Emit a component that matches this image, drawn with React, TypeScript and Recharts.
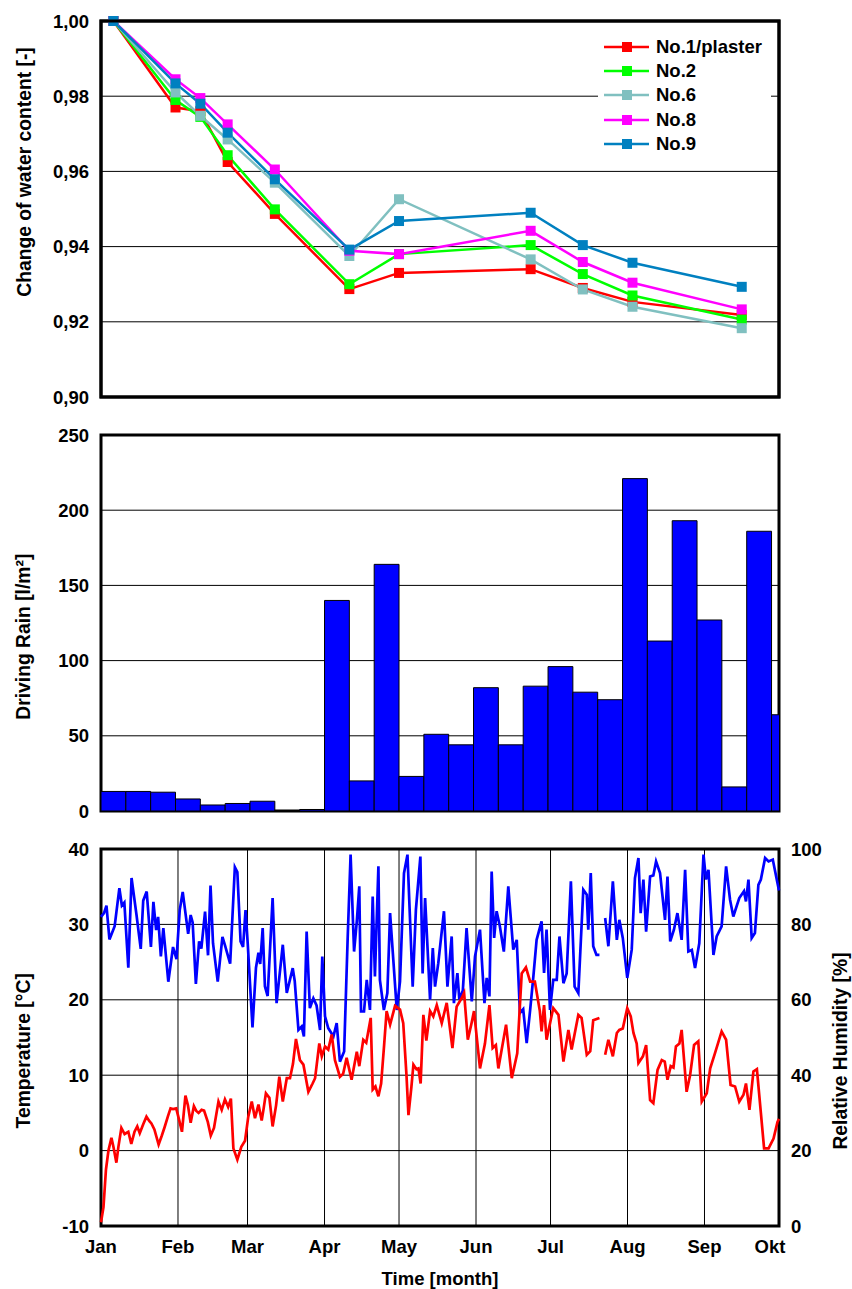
import React from "react";
import {
    ComposedChart,
    LineChart,
    Line,
    BarChart,
    Bar,
    XAxis,
    YAxis,
    CartesianGrid,
    ReferenceArea,
    Label
} from "recharts";

const FONT = "'Liberation Sans', Arial, Helvetica, sans-serif";

// month boundaries as day of year (Jan 1 = 0)
const monthTicks = [0, 31, 59, 90, 120, 151, 181, 212, 243, 273];
const monthNames = ["Jan", "Feb", "Mar", "Apr", "May", "Jun", "Jul", "Aug", "Sep", "Okt"];

// top panel: change of water content
const weighDays = [5, 30, 40, 51, 70, 100, 120, 173, 194, 214, 258];
const no1 = [1.0, 0.977, 0.976, 0.9625, 0.9487, 0.9287, 0.933, 0.934, 0.929, 0.9253, 0.9218];
const no2 = [1.0, 0.979, 0.9745, 0.9643, 0.9499, 0.930, 0.938, 0.9404, 0.9327, 0.927, 0.9206];
const no6 = [1.0, 0.981, 0.9748, 0.9685, 0.957, 0.9375, 0.9526, 0.9366, 0.9286, 0.924, 0.9183];
const no8 = [1.0, 0.9845, 0.9795, 0.9725, 0.9605, 0.9389, 0.938, 0.9442, 0.9359, 0.9304, 0.9233];
const no9 = [1.0, 0.9834, 0.978, 0.9703, 0.9579, 0.9392, 0.9468, 0.949, 0.9404, 0.9357, 0.9293];

const series = [
    { key: "no1", name: "No.1/plaster", color: "#FF0000" },
    { key: "no2", name: "No.2", color: "#00FF00" },
    { key: "no6", name: "No.6", color: "#80C0C0" },
    { key: "no8", name: "No.8", color: "#FF00FF" },
    { key: "no9", name: "No.9", color: "#0080C0" }
];

// middle panel: driving rain per 10-day period (centre day)
const rainDays = [5, 15, 25, 35, 45, 55, 65, 75, 85, 95, 105, 115, 125, 135, 145, 155, 165, 175, 185, 195, 205, 215, 225, 235, 245, 255, 265, 275];
const rainValues = [13, 13, 12.5, 8, 4, 5, 6.5, 0.3, 1, 140, 20, 164, 23, 51, 44, 82, 44, 83, 96, 79, 74, 221, 113, 193, 127, 16, 186, 64];

// bottom panel: daily temperature [°C] (day, value); null = missing data
const tempPoints: [number, number | null][] = [
    [0, -9.5], [1, -7.5], [2, -2.5], [3, 0], [4.2, 1.7], [5, 0.5], [6.2, -1.6], [7, 0.5], [8.2, 3.0], [9.5, 2.2],
    [11, 2.5], [12.2, 0.9], [13.5, 2.5], [14.6, 3.2], [15.6, 2.3], [17, 3.5], [18.3, 4.5], [19.5, 3.9], [20.3, 3.6], [21.5, 2.8],
    [23.2, 0.8], [24.5, 2.0], [25.6, 3.1], [27, 4.6], [28, 5.6], [29, 5.5], [30.3, 5.6], [31.5, 4.0], [32.6, 2.5], [34, 7.3],
    [35, 6.0], [36.1, 3.7], [37.4, 5.9], [38.3, 5.3], [39.3, 5.0], [40.5, 5.4], [41.5, 5.3], [43, 3.8], [44.2, 2.0], [45.5, 3.0],
    [47.3, 6.5], [48.6, 5.4], [49.9, 6.8], [51.2, 5.8], [52.3, 6.9], [53.3, 0.3], [54.9, -1.2], [56.5, 0.5], [58, 1.3], [59.3, 4.5],
    [60.7, 6.5], [62, 4.3], [63.4, 6.1], [64.7, 4.0], [65.5, 5.6], [66.4, 7.6], [67.8, 7.0], [69.1, 3.2], [70.5, 6.0], [71.8, 9.8],
    [73.2, 6.5], [74.8, 9.6], [76.1, 9.6], [77.3, 11.5], [78.5, 14.8], [80.1, 12], [81.5, 11.4], [83.5, 7.8], [85.2, 8.9], [86.2, 9.6],
    [87.9, 14.2], [88.9, 12.5], [90.2, 13.8], [91.5, 13.4], [92.9, 15.4], [94.2, 12], [96.2, 9.8], [97.5, 10.2], [98.9, 12.3], [100.9, 9.4],
    [103, 13.1], [104, 11.2], [105.6, 14.7], [106.8, 14.3], [108.6, 17.6], [109.4, 8.1], [110.5, 8.5], [111.7, 7.2], [112.8, 8.9], [114, 14],
    [115, 18.5], [116.4, 16.7], [118.4, 19.2], [120.4, 18.7], [121.7, 16.9], [123, 10], [123.8, 4.7], [125, 8.5], [125.8, 11.4], [127, 10.8],
    [127.8, 10.9], [128.7, 8.9], [129.8, 18], [131, 14.6], [132.5, 18.5], [133.8, 17.8], [135.2, 19.3], [137.2, 16.9], [139.2, 19.6], [141.5, 13.6],
    [143.2, 19.1], [145.2, 20.2], [146.2, 20.9], [147.7, 14.7], [149.2, 16.9], [150.2, 18.5], [152.6, 10.9], [154.6, 14.2], [156.4, 19.3], [157.7, 13.6],
    [159, 14.0], [160, 10.9], [163.1, 16.7], [165.4, 9.6], [167.6, 12.9], [169.4, 23.5], [171.1, 24.3], [172.8, 22.4], [174.7, 22.4], [176.7, 18.5],
    [177.4, 15.8], [178.4, 19.3], [179.4, 14.7], [182.1, 18.9], [184.2, 18], [186.2, 11.8], [188.2, 16], [189.5, 13.4], [192.2, 18], [193.5, 17.6],
    [195.6, 12.7], [197, 13.2], [198.2, 17.3], [200.7, 17.6], [202, null], [203, 12.7], [204.3, 14.7], [206.1, 12.5], [207.7, 15.6], [208.7, 16],
    [210.1, 16.2], [211.9, 18.9], [213.3, 17.8], [214.4, 15.6], [215.7, 14.2], [216.4, 11.6], [218.2, 12.5], [219.5, 14], [221.1, 6.7], [222.4, 6.3],
    [224.1, 10.7], [225.8, 12], [227, 11.8], [228.1, 9.4], [229.4, 11.2], [230.5, 11.0], [231.5, 13.8], [232.9, 14.2], [233.8, 16], [235.8, 7.8],
    [237.2, 10], [238.8, 14], [240.5, 14.5], [241.9, 6.5], [243.9, 7.6], [245.3, 10.9], [247.2, 12.9], [249.9, 15.8], [251.7, 14.7], [253.5, 8.7],
    [255.3, 8.5], [257, 6.5], [258.7, 7.4], [259.7, 8.9], [261.1, 5.4], [262.7, 10.5], [264.1, 10.8], [265.7, 5], [267, 0.3], [268.8, 0.3],
    [270.8, 1.6], [272.4, 3.8], [273, 4.2]
];

// bottom panel: daily relative humidity [%]
const rhPoints: [number, number | null][] = [
    [0, 82], [1.2, 83], [2.2, 85], [3.4, 76], [5.5, 79.5], [7.4, 89.6], [8.4, 85], [9.4, 85.8], [11, 68.5], [12.3, 92.3],
    [14.3, 82.5], [16, 73.5], [17, 86.3], [18.4, 88.7], [20.1, 74], [21.1, 86], [22.2, 78.5], [23, 82], [24.1, 71.5], [25.1, 79],
    [27.1, 64.8], [29, 74], [30.4, 70.8], [31.7, 83.8], [32.9, 88.6], [35.1, 77.5], [36.1, 82.5], [36.9, 80.5], [38.2, 64.2], [39.5, 75.5],
    [40.4, 73.6], [41.9, 83.4], [43.1, 71.8], [44.1, 90.3], [45.1, 75], [47, 64.8], [48.9, 76.7], [49.9, 74.5], [52, 69.6], [53.9, 95.2],
    [54.9, 93.9], [56.2, 75.5], [57.2, 74], [58.2, 83.8], [59.1, 74.7], [61, 52.7], [62.4, 68.5], [63.4, 72.5], [64.1, 69.5], [65.1, 79],
    [66, 63.6], [67.1, 61], [69.1, 87], [70.7, 59.1], [73.2, 74.6], [74.8, 61.8], [77.2, 68.4], [78, 65], [79.5, 52], [80.8, 52.9],
    [81.7, 50.3], [82.8, 78.1], [84.1, 57.8], [85.5, 60.4], [86.8, 58.5], [88.2, 52], [89.1, 71.5], [90.2, 55.6], [91.5, 52.5], [93.6, 50.3],
    [94.9, 53.8], [96.2, 43.6], [97.9, 46.3], [99.3, 75.9], [100.5, 98.5], [101.9, 72.8], [103, 80.8], [104, 90.1], [104.7, 56.9], [105.9, 56.9],
    [107, 65.3], [108.3, 57.3], [109.4, 87.4], [110.3, 66.2], [111.7, 95.4], [112.3, 65.3], [113.9, 57.3], [115.3, 61.8], [116.4, 83], [117.7, 70.6],
    [119.1, 57.3], [120.4, 64.9], [122, 93.6], [123.4, 98.5], [125.5, 63.5], [126.8, 83.9], [128.6, 98], [129.5, 67], [130.5, 87], [132.5, 60],
    [133.6, 73.7], [134.5, 63.5], [135.8, 69.7], [138.1, 83.5], [139.5, 63.5], [141.2, 76.8], [142.1, 59.1], [143.5, 67.1], [144.3, 60], [145.7, 62.5],
    [147.2, 79], [149.3, 59.6], [150.6, 71.5], [152.6, 78.6], [154.4, 59.1], [155.3, 65.8], [156.4, 60.9], [157.3, 94], [158.3, 76.4], [159.3, 83.5],
    [160.6, 79.5], [162.2, 72.8], [164, 90.1], [166, 73.3], [167.4, 75.9], [168.7, 56.5], [170, 57.5], [171.4, 48.5], [172.8, 57.3], [174.1, 66.2],
    [175.4, 75.9], [177.4, 80.8], [178.4, 67.1], [179.4, 78.6], [180.8, 57.3], [182.1, 65.3], [183.5, 65.3], [184.6, 76.8], [186.2, 64.4], [187.5, 67],
    [189.2, 91.4], [190.7, 63.5], [192.2, 61.8], [194.2, 89.2], [195.6, 87.9], [196.2, 78.6], [197.2, 93.6], [198.2, 74.2], [199.5, 71.9], [200.7, 71.9],
    [202, null], [203, 81.7], [204.3, 74.2], [206.1, 91.4], [207.7, 75.9], [208.7, 81.2], [210.1, 76.4], [211.9, 65.8], [213.7, 73.3], [215, 92.3],
    [216.4, 97.6], [217.3, 83], [218.4, 91.9], [219.5, 78.1], [221.1, 92.7], [222.4, 93], [223.5, 96.7], [225.1, 93.6], [227.1, 81.2], [228.1, 92.7],
    [229.2, 75.5], [230.7, 78.6], [232.1, 83], [233.8, 75.9], [235.2, 94.5], [236.5, 72.8], [237.9, 73.2], [239.2, 68.4], [240.9, 75], [242.6, 98.5],
    [243.6, 91.9], [244.6, 94.5], [246.6, 71.9], [247.9, 76.8], [249.9, 79.5], [251.7, 95.4], [253.3, 86.5], [254.6, 82.1], [257, 87], [258.9, 88.8],
    [259.7, 86.1], [260.7, 91.9], [262, 76.4], [263.3, 77.7], [264.7, 90.5], [265.7, 91.9], [267.4, 97.6], [268.8, 96.7], [270.5, 97.2], [272.1, 91.9],
    [273, 89]
];

const waterData = weighDays.map((day, i) => ({
    day,
    no1: no1[i],
    no2: no2[i],
    no6: no6[i],
    no8: no8[i],
    no9: no9[i]
}));
const rainData = rainDays.map((day, i) => ({ day, rain: rainValues[i] }));
const tempData = tempPoints.map(([day, t]) => ({ day, temp: t }));
const rhData = rhPoints.map(([day, rh]) => ({ day, rh }));

const tickStyle = { fill: "#000", fontSize: 18.5, fontWeight: "bold", fontFamily: FONT };
const titleStyle = { fill: "#000", fontSize: 19.3, fontWeight: "bold", fontFamily: FONT };

const vTitle = (x: number, y: number, text: string) => () => (
    <text transform={`translate(${x},${y}) rotate(-90)`} textAnchor="middle" style={titleStyle}>
        {text}
    </text>
);

const comma2 = (v: number) => v.toFixed(2).replace(".", ",");

const SquareDot = (p: any) => {
    if (p.cx == null || p.cy == null) return null;
    return <rect x={p.cx - 5} y={p.cy - 5} width={10} height={10} fill={p.stroke} />;
};

const MonthTick = (props: any) => {
    const { x, y, payload } = props;
    const i = monthTicks.indexOf(payload.value);
    const shift = payload.value === 273 ? -9 : 0;
    return (
        <text x={x + shift} y={y} dy="0.71em" textAnchor="middle" style={tickStyle}>
            {monthNames[i]}
        </text>
    );
};

const WaterLegend = () => (
    <div
        style={{
            position: "absolute",
            left: 598,
            top: 32,
            width: 173,
            height: 129,
            background: "#fff",
            paddingTop: 3,
            boxSizing: "border-box"
        }}
    >
        {series.map(s => (
            <div key={s.key} style={{ display: "flex", alignItems: "center", height: 24.2 }}>
                <svg width={58} height={24} style={{ display: "block" }}>
                    <line x1={6} x2={51} y1={12} y2={12} stroke={s.color} strokeWidth={2.5} />
                    <rect x={24} y={7} width={10} height={10} fill={s.color} />
                </svg>
                <span style={{ fontFamily: FONT, fontWeight: "bold", fontSize: 18.5, color: "#000", lineHeight: "24px" }}>
                    {s.name}
                </span>
            </div>
        ))}
    </div>
);

// plot frame: spans the whole x domain, full height when no y values are given
const frame = { x1: 0, x2: 273, fill: "none", stroke: "#000", strokeWidth: 3, fillOpacity: 0, ifOverflow: "visible" as const };

// thick border round the top plot area (x 101..779, y 21..397)
const TopFrame = () => (
    <svg
        width={852}
        height={414}
        style={{ position: "absolute", left: 0, top: 0, pointerEvents: "none", overflow: "visible" }}
    >
        <rect x={101} y={21} width={678} height={376} fill="none" stroke="#000" strokeWidth={3} />
    </svg>
);

export default function App() {
    return (
        <div style={{ position: "absolute", left: 0, top: 0, width: 852, height: 1289, background: "#fff" }}>
            <div style={{ position: "absolute", left: 0, top: 0, width: 852, height: 414 }}>
                <ComposedChart width={852} height={414} data={waterData} margin={{ top: 21, right: 73, bottom: 14, left: 0 }}>
                    <CartesianGrid stroke="#000" strokeWidth={1} />
                    <XAxis
                        type="number"
                        dataKey="day"
                        domain={[0, 273]}
                        ticks={monthTicks}
                        interval={0}
                        tick={false}
                        tickLine={false}
                        axisLine={false}
                        height={3}
                    />
                    <YAxis
                        domain={[0.9, 1]}
                        ticks={[0.9, 0.92, 0.94, 0.96, 0.98, 1]}
                        interval={0}
                        tickFormatter={comma2}
                        tick={tickStyle}
                        tickLine={false}
                        axisLine={false}
                        tickMargin={6}
                        width={101}
                    >
                        <Label content={vTitle(31, 172, "Change of water content [-]")} />
                    </YAxis>
                    <ReferenceArea {...frame} />
                    {series.map(s => (
                        <Line
                            key={s.key}
                            dataKey={s.key}
                            name={s.name}
                            stroke={s.color}
                            strokeWidth={2.5}
                            dot={<SquareDot />}
                            activeDot={false}
                            isAnimationActive={false}
                        />
                    ))}
                </ComposedChart>
                <TopFrame />
                <WaterLegend />
            </div>

            <div style={{ position: "absolute", left: 0, top: 414 }}>
                <BarChart width={852} height={414} data={rainData} margin={{ top: 21, right: 73, bottom: 14, left: 0 }}>
                    <CartesianGrid stroke="#000" strokeWidth={1} />
                    <XAxis
                        type="number"
                        dataKey="day"
                        domain={[0, 273]}
                        allowDataOverflow
                        ticks={monthTicks}
                        interval={0}
                        tick={false}
                        tickLine={false}
                        axisLine={false}
                        height={3}
                    />
                    <YAxis
                        domain={[0, 250]}
                        ticks={[0, 50, 100, 150, 200, 250]}
                        interval={0}
                        tick={tickStyle}
                        tickLine={false}
                        axisLine={false}
                        tickMargin={6}
                        width={101}
                    >
                        <Label content={vTitle(30, 222.7, "Driving Rain [l/m²]")} />
                    </YAxis>
                    <Bar
                        dataKey="rain"
                        fill="#0000FF"
                        stroke="#000"
                        strokeWidth={1}
                        barSize={24.83}
                        isAnimationActive={false}
                    />
                    <ReferenceArea {...frame} />
                </BarChart>
            </div>

            <div style={{ position: "absolute", left: 0, top: 828 }}>
                <LineChart width={852} height={461} margin={{ top: 21, right: 0, bottom: 0, left: 0 }}>
                    <CartesianGrid stroke="#000" strokeWidth={1} yAxisId="left" />
                    <XAxis
                        type="number"
                        dataKey="day"
                        domain={[0, 273]}
                        ticks={monthTicks}
                        interval={0}
                        tick={<MonthTick />}
                        tickLine={false}
                        axisLine={false}
                        tickMargin={8}
                        height={63}
                    >
                        <Label
                            content={() => (
                                <text x={440} y={457} textAnchor="middle" style={tickStyle}>
                                    Time [month]
                                </text>
                            )}
                        />
                    </XAxis>
                    <YAxis
                        yAxisId="left"
                        domain={[-10, 40]}
                        ticks={[-10, 0, 10, 20, 30, 40]}
                        interval={0}
                        tick={tickStyle}
                        tickLine={false}
                        axisLine={false}
                        tickMargin={6}
                        width={101}
                    >
                        <Label content={vTitle(30, 222.8, "Temperature [°C]")} />
                    </YAxis>
                    <YAxis
                        yAxisId="right"
                        orientation="right"
                        domain={[0, 100]}
                        ticks={[0, 20, 40, 60, 80, 100]}
                        interval={0}
                        tick={tickStyle}
                        tickLine={false}
                        axisLine={false}
                        tickMargin={6}
                        width={73}
                    >
                        <Label content={vTitle(847, 223, "Relative Humidity [%]")} />
                    </YAxis>
                    <Line
                        yAxisId="right"
                        data={rhData}
                        dataKey="rh"
                        stroke="#0000FF"
                        strokeWidth={2.7}
                        dot={false}
                        activeDot={false}
                        isAnimationActive={false}
                    />
                    <Line
                        yAxisId="left"
                        data={tempData}
                        dataKey="temp"
                        stroke="#FF0000"
                        strokeWidth={2.7}
                        dot={false}
                        activeDot={false}
                        isAnimationActive={false}
                    />
                    <ReferenceArea yAxisId="left" {...frame} />
                </LineChart>
            </div>
        </div>
    );
}
